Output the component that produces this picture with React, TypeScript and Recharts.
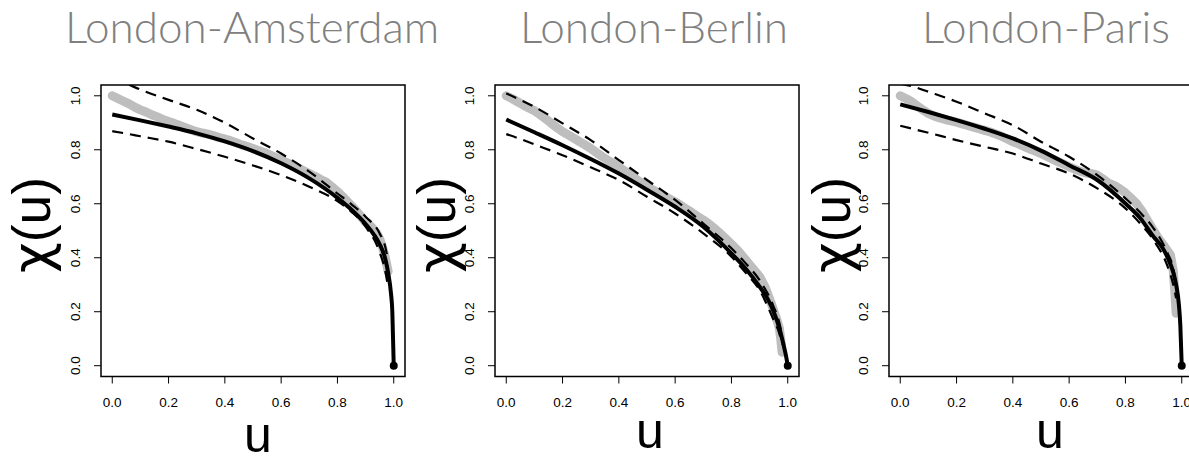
import React from "react";
import {
  ComposedChart,
  Line,
  Scatter,
  XAxis,
  YAxis,
  ReferenceArea,
} from "recharts";

// empirical chi(u), grey dots
const empiricalU = [
  0, 0.02, 0.04, 0.06, 0.08, 0.1, 0.12, 0.14, 0.16, 0.18, 0.2, 0.22, 0.24, 0.26,
  0.28, 0.3, 0.32, 0.34, 0.36, 0.38, 0.4, 0.42, 0.44, 0.46, 0.48, 0.5, 0.52,
  0.54, 0.56, 0.58, 0.6, 0.62, 0.64, 0.66, 0.68, 0.7, 0.72, 0.74, 0.76, 0.78,
  0.8, 0.82, 0.84, 0.86, 0.88, 0.9, 0.92, 0.94, 0.95, 0.96, 0.97, 0.975, 0.98,
];
const amsterdamEmpirical = [
  1.0, 0.99, 0.98, 0.97, 0.958, 0.948, 0.94, 0.93, 0.922, 0.912, 0.905, 0.898,
  0.89, 0.882, 0.874, 0.867, 0.862, 0.858, 0.852, 0.845, 0.84, 0.834, 0.826,
  0.818, 0.812, 0.805, 0.797, 0.79, 0.781, 0.772, 0.762, 0.752, 0.744, 0.733,
  0.722, 0.712, 0.702, 0.69, 0.68, 0.663, 0.645, 0.625, 0.603, 0.582, 0.558,
  0.532, 0.515, 0.49, 0.47, 0.44, 0.4, 0.375, 0.35,
];
const berlinEmpirical = [
  1.0, 0.99, 0.978, 0.966, 0.955, 0.945, 0.93, 0.915, 0.898, 0.882, 0.867,
  0.855, 0.843, 0.83, 0.818, 0.805, 0.79, 0.775, 0.762, 0.75, 0.737, 0.722,
  0.708, 0.692, 0.678, 0.663, 0.652, 0.64, 0.628, 0.618, 0.607, 0.594, 0.58,
  0.567, 0.553, 0.54, 0.525, 0.508, 0.49, 0.47, 0.45, 0.43, 0.405, 0.38, 0.355,
  0.33, 0.29, 0.235, 0.205, 0.175, 0.14, 0.1, 0.05,
];
const parisEmpirical = [
  1.0, 0.99, 0.978, 0.963, 0.948, 0.935, 0.925, 0.918, 0.912, 0.907, 0.902,
  0.896, 0.89, 0.884, 0.878, 0.872, 0.866, 0.858, 0.85, 0.84, 0.83, 0.822,
  0.812, 0.803, 0.795, 0.786, 0.776, 0.766, 0.756, 0.747, 0.737, 0.728, 0.72,
  0.714, 0.712, 0.706, 0.692, 0.676, 0.668, 0.655, 0.64, 0.62, 0.6, 0.57,
  0.535, 0.5, 0.468, 0.44, 0.425, 0.41, 0.35, 0.28, 0.194,
];

// fitted chi(u), solid black
const fitU = [
  0, 0.1, 0.2, 0.3, 0.4, 0.5, 0.6, 0.7, 0.8, 0.85, 0.9, 0.93, 0.95, 0.97, 0.98,
  0.99, 0.995, 1,
];
const amsterdamFit = [
  0.931, 0.909, 0.886, 0.861, 0.831, 0.795, 0.75, 0.694, 0.622, 0.578, 0.525,
  0.485, 0.45, 0.395, 0.345, 0.27, 0.2, 0,
];
const berlinFit = [
  0.912, 0.865, 0.817, 0.766, 0.712, 0.652, 0.589, 0.515, 0.416, 0.36, 0.293,
  0.245, 0.2, 0.14, 0.1, 0.055, 0.03, 0,
];
const parisFit = [
  0.968, 0.94, 0.91, 0.878, 0.842, 0.797, 0.743, 0.688, 0.601, 0.55, 0.478,
  0.44, 0.4, 0.345, 0.3, 0.225, 0.15, 0,
];

// confidence bounds, dashed
const boundU = [
  0, 0.05, 0.1, 0.2, 0.3, 0.4, 0.5, 0.6, 0.7, 0.8, 0.85, 0.9, 0.95, 0.97, 0.98,
];
const amsterdamUpper = [
  1.065, 1.045, 1.023, 0.985, 0.948, 0.9, 0.842, 0.786, 0.719, 0.638, 0.598,
  0.552, 0.49, 0.44, 0.39,
];
const amsterdamLower = [
  0.869, 0.86, 0.85, 0.83, 0.803, 0.774, 0.742, 0.706, 0.663, 0.61, 0.57,
  0.515, 0.42, 0.35, 0.29,
];
const berlinUpper = [
  1.009, 0.985, 0.959, 0.898, 0.836, 0.762, 0.688, 0.614, 0.527, 0.435, 0.38,
  0.317, 0.219, 0.16, 0.11,
];
const berlinLower = [
  0.858, 0.84, 0.82, 0.78, 0.735, 0.688, 0.626, 0.564, 0.49, 0.404, 0.345, 0.28,
  0.169, 0.12, 0.08,
];
const parisUpper = [
  1.045, 1.033, 1.015, 0.978, 0.935, 0.891, 0.83, 0.774, 0.706, 0.62, 0.57,
  0.509, 0.416, 0.36, 0.3,
];
const parisLower = [
  0.889, 0.876, 0.863, 0.836, 0.811, 0.786, 0.749, 0.712, 0.657, 0.583, 0.53,
  0.465, 0.367, 0.3, 0.25,
];

const ticks = [0, 0.2, 0.4, 0.6, 0.8, 1];
const endPoint = [{ u: 1, chi: 0 }];

const pairs = (us: number[], vs: number[]) =>
  us.map((u, i) => ({ u, chi: vs[i] }));

const tickFont = "'Liberation Sans', Arial, sans-serif";

function XTick(props: any) {
  const { x, payload } = props;
  return (
    <text x={x} y={407} textAnchor="middle" fontSize={13.5} fontFamily={tickFont} fill="#000">
      {Number(payload.value).toFixed(1)}
    </text>
  );
}

function YTick(props: any) {
  const { y, payload } = props;
  const bx = 79;
  return (
    <text
      x={bx}
      y={y}
      transform={`rotate(-90, ${bx}, ${y})`}
      textAnchor="middle"
      fontSize={13.5}
      fontFamily={tickFont}
      fill="#000"
    >
      {Number(payload.value).toFixed(1)}
    </text>
  );
}

type PanelProps = {
  title: string;
  left: number;
  titleX: number;
  chiX: number;
  uX: number;
  uY: number;
  empirical: number[];
  fit: number[];
  upper: number[];
  lower: number[];
};

function Panel(p: PanelProps) {
  return (
    <>
      <div
        style={{
          position: "absolute",
          left: p.titleX - 250,
          top: 4,
          width: 500,
          textAlign: "center",
          fontFamily: "'Lato Light', Lato, 'Open Sans', sans-serif",
          fontWeight: 300,
          fontSize: 44,
          lineHeight: "44px",
          color: "#808080",
          whiteSpace: "nowrap",
        }}
      >
        {p.title}
      </div>
      <div style={{ position: "absolute", left: p.left, top: 0 }}>
        <ComposedChart
          width={414}
          height={459}
          margin={{ top: 85, right: 10, bottom: 0, left: 0 }}
        >
          <XAxis
            type="number"
            dataKey="u"
            domain={[-0.04, 1.04]}
            ticks={ticks}
            allowDataOverflow
            axisLine={false}
            tickLine={{ stroke: "#000" }}
            tickSize={7}
            tick={<XTick />}
            height={82.5}
            label={() => (
              <text
                x={p.uX}
                y={p.uY}
                textAnchor="middle"
                fontSize={50}
                fontFamily={tickFont}
                fill="#000"
              >
                u
              </text>
            )}
          />
          <YAxis
            type="number"
            dataKey="chi"
            domain={[-0.04, 1.04]}
            ticks={ticks}
            allowDataOverflow
            axisLine={false}
            tickLine={{ stroke: "#000" }}
            tickSize={7}
            tick={<YTick />}
            width={100}
            label={() => (
              <text
                x={p.chiX}
                y={225}
                transform={`rotate(-90, ${p.chiX}, 225)`}
                textAnchor="middle"
                fontSize={54}
                fontFamily={tickFont}
                textLength={96}
                lengthAdjust="spacingAndGlyphs"
                fill="#000"
              >
                <tspan fontFamily="'DejaVu Sans', sans-serif">χ</tspan>(u)
              </text>
            )}
          />
          <Line
            data={pairs(empiricalU, p.empirical)}
            dataKey="chi"
            type="linear"
            stroke="#bebebe"
            strokeWidth={9}
            strokeLinejoin="round"
            strokeLinecap="round"
            dot={false}
            activeDot={false}
            isAnimationActive={false}
          />
          <Line
            data={pairs(boundU, p.upper)}
            dataKey="chi"
            type="monotone"
            stroke="#000"
            strokeWidth={2.2}
            strokeDasharray="11 7"
            dot={false}
            activeDot={false}
            isAnimationActive={false}
          />
          <Line
            data={pairs(boundU, p.lower)}
            dataKey="chi"
            type="monotone"
            stroke="#000"
            strokeWidth={2.2}
            strokeDasharray="11 7"
            dot={false}
            activeDot={false}
            isAnimationActive={false}
          />
          <Line
            data={pairs(fitU, p.fit)}
            dataKey="chi"
            type="monotone"
            stroke="#000"
            strokeWidth={4}
            dot={false}
            activeDot={false}
            isAnimationActive={false}
          />
          <Scatter
            data={endPoint}
            isAnimationActive={false}
            shape={(s: any) => <circle cx={s.cx} cy={s.cy} r={4} fill="#000" />}
          />
          <ReferenceArea
            x1={-0.04}
            x2={1.04}
            y1={-0.04}
            y2={1.04}
            fill="none"
            fillOpacity={0}
            stroke="#000"
            strokeWidth={1.5}
            ifOverflow="visible"
          />
        </ComposedChart>
      </div>
    </>
  );
}

export default function App() {
  return (
    <div
      style={{
        position: "absolute",
        left: 0,
        top: 0,
        width: 1189,
        height: 459,
        overflow: "hidden",
        background: "#fff",
      }}
    >
      <Panel
        title="London-Amsterdam"
        left={1}
        titleX={252}
        chiX={49}
        uX={257}
        uY={452}
        empirical={amsterdamEmpirical}
        fit={amsterdamFit}
        upper={amsterdamUpper}
        lower={amsterdamLower}
      />
      <Panel
        title="London-Berlin"
        left={395}
        titleX={654}
        chiX={60}
        uX={255}
        uY={448}
        empirical={berlinEmpirical}
        fit={berlinFit}
        upper={berlinUpper}
        lower={berlinLower}
      />
      <Panel
        title="London-Paris"
        left={789}
        titleX={1046}
        chiX={61}
        uX={261}
        uY={448}
        empirical={parisEmpirical}
        fit={parisFit}
        upper={parisUpper}
        lower={parisLower}
      />
    </div>
  );
}
